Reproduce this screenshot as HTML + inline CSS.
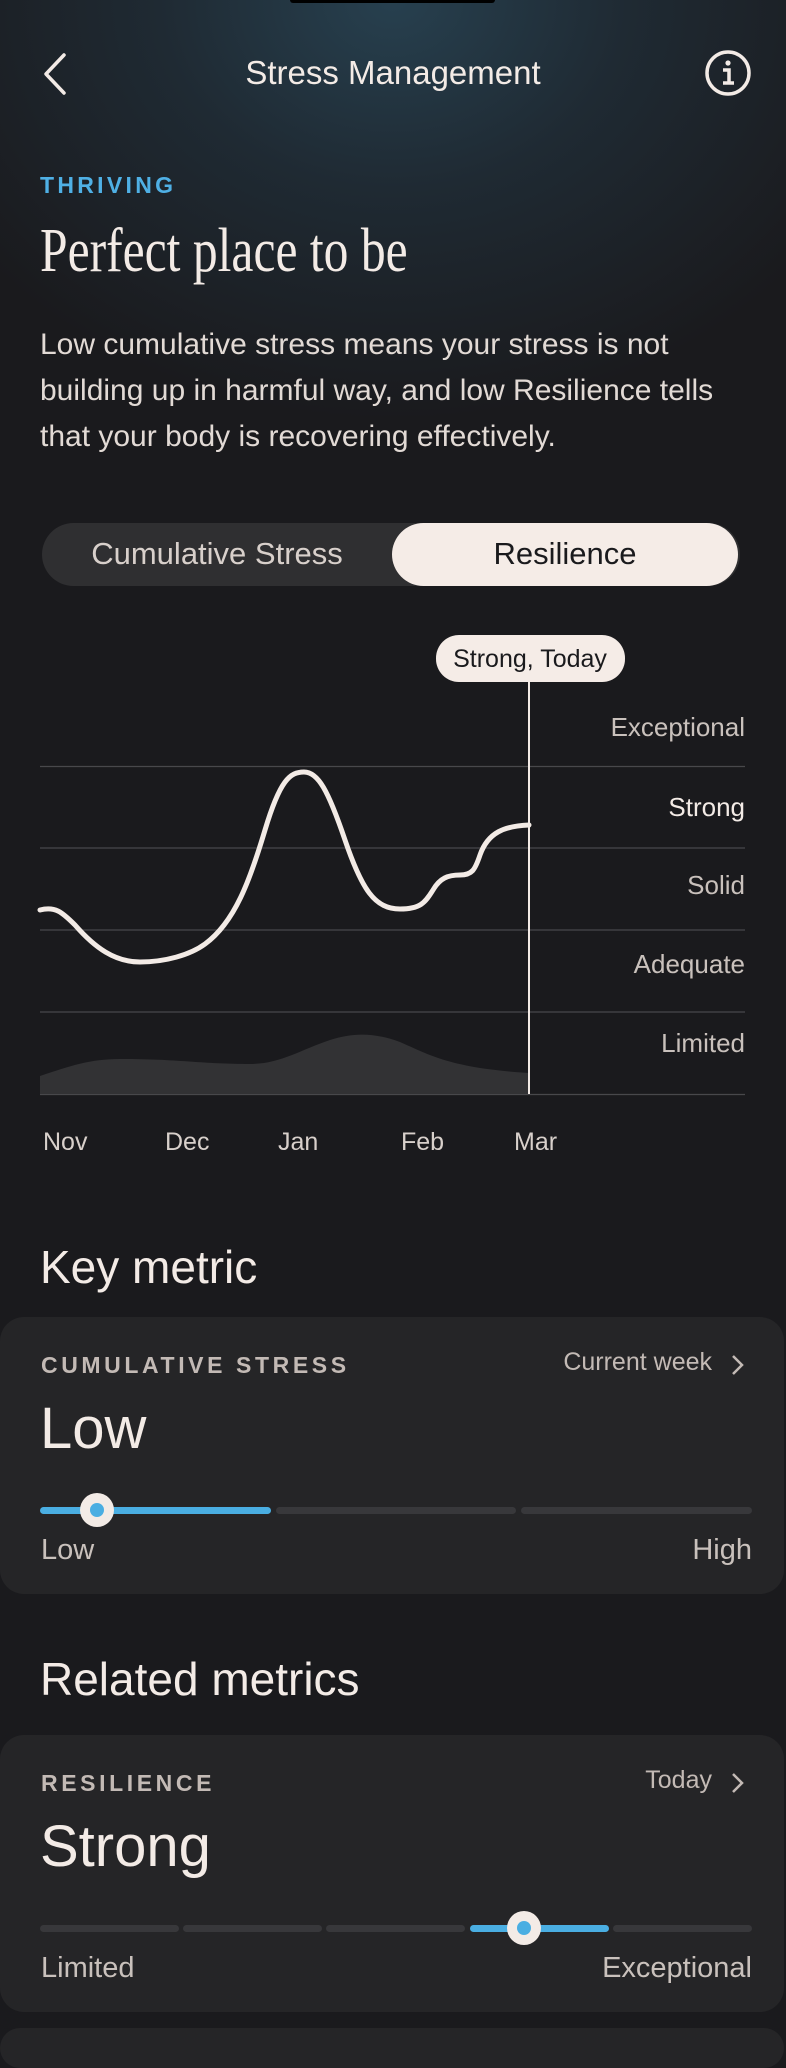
<!DOCTYPE html>
<html><head><meta charset="utf-8"><style>
*{margin:0;padding:0;box-sizing:border-box}
body{width:786px;height:2035px;overflow:hidden;background:#1a1a1d;font-family:"Liberation Sans",sans-serif;color:#f3ebe6;position:relative}
.bg{position:absolute;left:0;top:0;width:786px;height:700px;background:radial-gradient(ellipse 520px 420px at 393px 0px,#27404f 0%,#1f2a33 45%,#1a1a1d 100%)}
.a{position:absolute;white-space:nowrap}
.card{position:absolute;left:0;width:784px;background:#252527;border-radius:24px}
.seg{position:absolute;height:7px;border-radius:4px;background:#38383b}
.blue{background:#4aaee2}
.knob{position:absolute;width:34px;height:34px;border-radius:50%;background:#f3ebe6;}
.knob:after{content:"";position:absolute;left:10px;top:10px;width:14px;height:14px;border-radius:50%;background:#4aaee2}
</style></head><body>
<div class="bg"></div>
<div class="a" style="left:290px;top:0;width:205px;height:3px;background:#000;border-radius:0 0 6px 6px"></div>
<svg class="a" style="left:0;top:0" width="786" height="130">
<polyline points="64,55 46,74 64,93" fill="none" stroke="#f3ebe6" stroke-width="3.5" stroke-linecap="round" stroke-linejoin="round"/>
<circle cx="728" cy="73" r="21" fill="none" stroke="#f3ebe6" stroke-width="3.5"/>
<circle cx="728" cy="63" r="2.6" fill="#f3ebe6"/>
<path d="M723,70 H729 V83 M723,83 H734" fill="none" stroke="#f3ebe6" stroke-width="3.5"/>
</svg>
<div class="a" style="left:0;width:786px;text-align:center;top:54px;font-size:33px;">Stress Management</div>
<div class="a" style="left:40px;top:172px;font-size:23px;font-weight:bold;letter-spacing:3.3px;color:#4fb0e5">THRIVING</div>
<div class="a" style="left:40px;top:216px;font-family:'Liberation Serif',serif;font-size:62px;transform:scaleX(0.8);transform-origin:left top">Perfect place to be</div>
<div class="a" style="left:40px;top:322px;font-size:30px;line-height:46px;color:#e2dad5">Low cumulative stress means your stress is not<br>building up in harmful way, and low Resilience tells<br>that your body is recovering effectively.</div>
<div class="a" style="left:42px;top:523px;width:698px;height:63px;border-radius:32px;background:#2f2f31"></div>
<div class="a" style="left:392px;top:523px;width:346px;height:63px;border-radius:32px;background:#f5ece7"></div>
<div class="a" style="left:42px;width:350px;text-align:center;top:536px;font-size:31px;color:#d8d0cb">Cumulative Stress</div>
<div class="a" style="left:392px;width:346px;text-align:center;top:536px;font-size:31px;color:#1a1a1d">Resilience</div>
<svg class="a" style="left:0;top:0" width="786" height="1200">
<g stroke="#48484b" stroke-width="1.3">
<line x1="40" y1="766.5" x2="745" y2="766.5"/><line x1="40" y1="848" x2="745" y2="848"/>
<line x1="40" y1="930" x2="745" y2="930"/><line x1="40" y1="1012" x2="745" y2="1012"/>
<line x1="40" y1="1094.5" x2="745" y2="1094.5"/></g>
<path d="M40,1076 C70,1066 90,1059 120,1059 C180,1059 200,1064 250,1064 C280,1064 300,1050 330,1040 C355,1032 375,1033 400,1042 C430,1055 450,1068 529,1073 L529,1094 L40,1094 Z" fill="#323234"/>
<line x1="529" y1="682" x2="529" y2="1094" stroke="#f3ebe6" stroke-width="2"/>
<path d="M40,910 C55,906 62,912 75,925 C95,948 115,962 140,962 C165,962 190,955 205,944 C235,922 250,880 265,830 C280,780 290,772 304,772 C318,772 328,790 345,840 C362,890 375,909 400,909 C420,909 425,903 433,890 C440,878 448,875 460,875 C472,875 475,870 480,855 C488,832 505,826 529,825" fill="none" stroke="#f3ebe6" stroke-width="5" stroke-linecap="round"/>
<rect x="436" y="635" width="189" height="47" rx="23" fill="#f5ece7"/>
<g font-family="Liberation Sans, sans-serif" font-size="25">
<text x="530" y="667" text-anchor="middle" fill="#1a1a1d">Strong, Today</text>
<g text-anchor="end" fill="#c9c1bc" font-size="26">
<text x="745" y="736">Exceptional</text><text x="745" y="816" fill="#f3ebe6">Strong</text>
<text x="745" y="894">Solid</text><text x="745" y="973">Adequate</text><text x="745" y="1052">Limited</text></g>
<g fill="#d8d0cb"><text x="43" y="1150">Nov</text><text x="165" y="1150">Dec</text><text x="278" y="1150">Jan</text><text x="401" y="1150">Feb</text><text x="514" y="1150">Mar</text></g>
</g></svg>
<div class="a" style="left:40px;top:1240px;font-size:46px">Key metric</div>
<div class="card" style="top:1317px;height:277px"></div>
<div class="a" style="left:41px;top:1352px;font-size:23px;font-weight:bold;letter-spacing:3.6px;color:#c3bab5">CUMULATIVE STRESS</div>
<div class="a" style="left:450px;width:262px;text-align:right;top:1348px;font-size:25px;color:#c3bab5">Current week</div>
<svg class="a" style="left:730px;top:1354px" width="16" height="22"><polyline points="3,2 12,11 3,20" fill="none" stroke="#c3bab5" stroke-width="2.5"/></svg>
<div class="a" style="left:40px;top:1395px;font-size:58px">Low</div>
<div class="seg blue" style="left:40px;top:1507px;width:231px"></div>
<div class="seg" style="left:276px;top:1507px;width:240px"></div>
<div class="seg" style="left:521px;top:1507px;width:231px"></div>
<div class="knob" style="left:80px;top:1493px"></div>
<div class="a" style="left:41px;top:1534px;font-size:29px;color:#c9c1bc">Low</div>
<div class="a" style="left:600px;width:152px;text-align:right;top:1534px;font-size:29px;color:#c9c1bc">High</div>
<div class="a" style="left:40px;top:1652px;font-size:46px">Related metrics</div>
<div class="card" style="top:1735px;height:277px"></div>
<div class="card" style="top:2028px;height:40px"></div>
<div class="a" style="left:41px;top:1770px;font-size:23px;font-weight:bold;letter-spacing:3.6px;color:#c3bab5">RESILIENCE</div>
<div class="a" style="left:450px;width:262px;text-align:right;top:1766px;font-size:25px;color:#c3bab5">Today</div>
<svg class="a" style="left:730px;top:1772px" width="16" height="22"><polyline points="3,2 12,11 3,20" fill="none" stroke="#c3bab5" stroke-width="2.5"/></svg>
<div class="a" style="left:40px;top:1813px;font-size:58px">Strong</div>
<div class="seg" style="left:40px;top:1925px;width:139px"></div>
<div class="seg" style="left:183px;top:1925px;width:139px"></div>
<div class="seg" style="left:326px;top:1925px;width:139px"></div>
<div class="seg blue" style="left:470px;top:1925px;width:139px"></div>
<div class="seg" style="left:613px;top:1925px;width:139px"></div>
<div class="knob" style="left:507px;top:1911px"></div>
<div class="a" style="left:41px;top:1952px;font-size:29px;color:#c9c1bc">Limited</div>
<div class="a" style="left:450px;width:302px;text-align:right;top:1952px;font-size:29px;color:#c9c1bc">Exceptional</div>
</body></html>
